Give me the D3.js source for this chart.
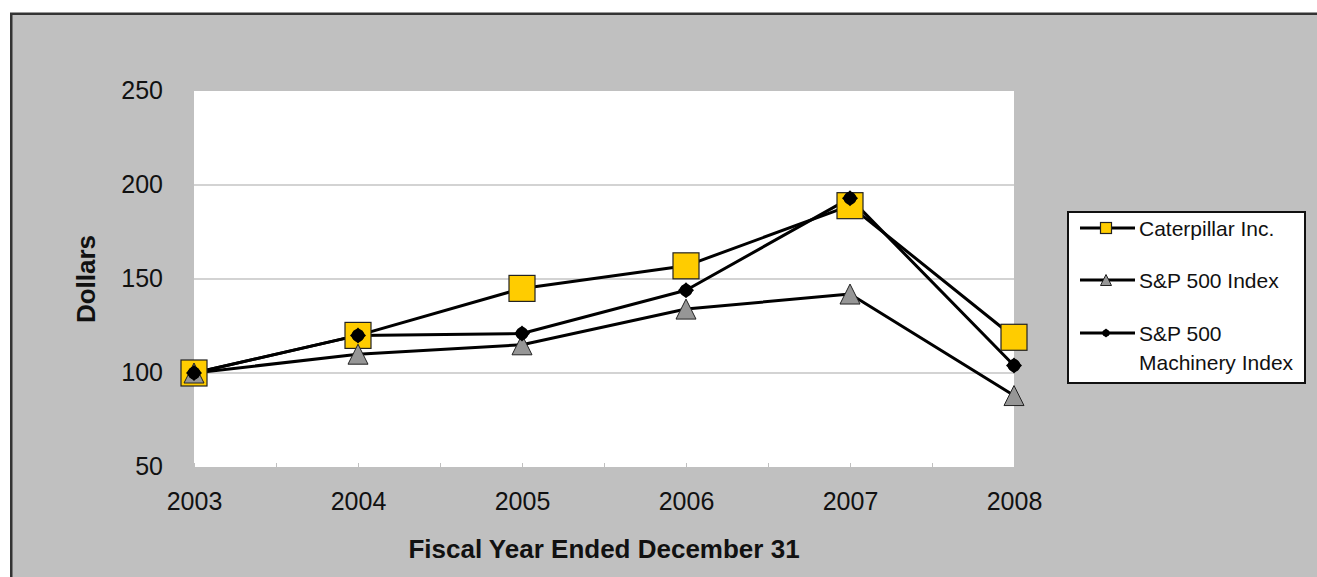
<!DOCTYPE html>
<html>
<head>
<meta charset="utf-8">
<script src="https://cdn.jsdelivr.net/npm/d3@7"></script>
<style>
body { margin: 0; background: #fff; overflow: hidden; }
svg { display: block; }
text { font-family: "Liberation Sans", Arial, sans-serif; }
</style>
</head>
<body>
<script>
var w = 1317;
var h = 577;

// data
var years = ["2003", "2004", "2005", "2006", "2007", "2008"];
var caterpillar = [100, 120, 145, 157, 189, 119];
var sp500 = [100, 110, 115, 134, 142, 88];
var machinery = [100, 120, 121, 144, 193, 104];
var yTicks = [50, 100, 150, 200, 250];
var seriesNames = ["Caterpillar Inc.", "S&P 500 Index", "S&P 500 Machinery Index"];

// plot area edges (window.top is read-only, so no "top" here)
var plotL = 194, plotR = 1014, plotT = 91, plotB = 467;

var svg = d3.select("body")
    .append("svg")
    .attr("width", w)
    .attr("height", h);

// chart area; the frame only shows on the top and left, it runs off the page elsewhere
svg.append("rect")
    .attr("x", 11)
    .attr("y", 14)
    .attr("width", w)
    .attr("height", h)
    .attr("fill", "#c0c0c0");
svg.append("path")
    .attr("d", "M11.25," + h + "V13.75H" + w)
    .attr("fill", "none")
    .attr("stroke", "#333")
    .attr("stroke-width", 2.5);

// plot area
svg.append("rect")
    .attr("x", plotL)
    .attr("y", plotT)
    .attr("width", plotR - plotL)
    .attr("height", plotB - plotT)
    .attr("fill", "#fff");

var xScale = d3.scalePoint()
    .domain(years)
    .range([plotL, plotR]);

var yScale = d3.scaleLinear()
    .domain([50, 250])
    .range([plotB, plotT]);

// gridlines
svg.selectAll("line.grid")
    .data([100, 150, 200])
    .enter()
    .append("line")
    .attr("class", "grid")
    .attr("x1", plotL)
    .attr("x2", plotR)
    .attr("y1", function(d) { return yScale(d); })
    .attr("y2", function(d) { return yScale(d); })
    .attr("stroke", "#c4c4c4")
    .attr("stroke-width", 1.5);

// small ticks along the bottom, at every half year
var tickScale = d3.scaleLinear().domain([0, years.length - 1]).range([plotL, plotR]);
var halfTicks = d3.range(1, (years.length - 1) * 2).map(function(i) { return i / 2; });
svg.append("g")
    .attr("transform", "translate(0," + plotB + ")")
    .call(d3.axisBottom(tickScale).tickValues(halfTicks).tickSize(-4).tickFormat(""))
    .call(function(g) {
        g.select(".domain").attr("stroke", "#c0c0c0");
        g.selectAll(".tick line").attr("stroke", "#c0c0c0");
    });

// y axis labels
svg.append("g")
    .attr("transform", "translate(" + plotL + ",0)")
    .call(d3.axisLeft(yScale).tickValues(yTicks).tickSize(0).tickPadding(31))
    .call(function(g) {
        g.select(".domain").remove();
        g.selectAll("text")
            .attr("font-family", "'Liberation Sans', Arial, sans-serif")
            .attr("font-size", "25px")
            .attr("fill", "#111")
            .attr("dy", "0.28em");
    });

// x axis labels
svg.append("g")
    .attr("transform", "translate(0," + plotB + ")")
    .call(d3.axisBottom(xScale).tickSize(0).tickPadding(25))
    .call(function(g) {
        g.select(".domain").remove();
        g.selectAll("text")
            .attr("font-family", "'Liberation Sans', Arial, sans-serif")
            .attr("font-size", "25px")
            .attr("fill", "#111");
    });

// axis titles
svg.append("text")
    .attr("x", (plotL + plotR) / 2)
    .attr("y", 558)
    .attr("text-anchor", "middle")
    .attr("font-size", "26px")
    .attr("font-weight", "bold")
    .attr("fill", "#111")
    .text("Fiscal Year Ended December 31");

svg.append("text")
    .attr("transform", "translate(95," + ((plotT + plotB) / 2) + ") rotate(-90)")
    .attr("text-anchor", "middle")
    .attr("font-size", "26px")
    .attr("font-weight", "bold")
    .attr("fill", "#111")
    .text("Dollars");

var line = d3.line()
    .x(function(d, i) { return xScale(years[i]); })
    .y(function(d) { return yScale(d); });

var allSeries = [caterpillar, sp500, machinery];

// all the lines first, then the markers on top
svg.selectAll("path.series")
    .data(allSeries)
    .enter()
    .append("path")
    .attr("class", "series")
    .attr("d", line)
    .attr("fill", "none")
    .attr("stroke", "#000")
    .attr("stroke-width", 3)
    .attr("stroke-linejoin", "round");

function drawMarker(g, kind, x, y, s) {
    if (kind === 0) {
        g.append("rect")
            .attr("x", x - s / 2)
            .attr("y", y - s / 2)
            .attr("width", s)
            .attr("height", s)
            .attr("fill", "#ffcc00")
            .attr("stroke", "#222")
            .attr("stroke-width", 1.2);
    } else if (kind === 1) {
        g.append("path")
            .attr("d", "M" + x + "," + (y - s / 2) + "L" + (x + s / 2) + "," + (y + s / 2) + "L" + (x - s / 2) + "," + (y + s / 2) + "Z")
            .attr("fill", "#969696")
            .attr("stroke", "#222")
            .attr("stroke-width", 1);
    } else {
        // small black diamond blob
        g.append("path")
            .attr("d", d3.symbol().type(d3.symbolSquare).size(s * s * 0.5)())
            .attr("transform", "translate(" + x + "," + y + ") rotate(45)")
            .attr("fill", "#000");
        g.append("circle")
            .attr("cx", x)
            .attr("cy", y)
            .attr("r", s * 0.4)
            .attr("fill", "#000");
    }
}

var markerSize = [26, 20, 16];
var markers = svg.append("g");
allSeries.forEach(function(values, k) {
    values.forEach(function(v, i) {
        drawMarker(markers, k, xScale(years[i]), yScale(v), markerSize[k]);
    });
});

// legend
var legend = svg.append("g");
legend.append("rect")
    .attr("x", 1068)
    .attr("y", 212)
    .attr("width", 237)
    .attr("height", 171)
    .attr("fill", "#fff")
    .attr("stroke", "#111")
    .attr("stroke-width", 2);

var legendY = [228, 280, 333];
var legendMarker = [11, 11, 9];
seriesNames.forEach(function(name, k) {
    var ly = legendY[k];
    legend.append("line")
        .attr("x1", 1080)
        .attr("x2", 1135)
        .attr("y1", ly)
        .attr("y2", ly)
        .attr("stroke", "#000")
        .attr("stroke-width", 3);
    drawMarker(legend, k, 1106, ly, legendMarker[k]);
    var words = k === 2 ? ["S&P 500", "Machinery Index"] : [name];
    words.forEach(function(t, j) {
        legend.append("text")
            .attr("x", 1139)
            .attr("y", ly + j * 29)
            .attr("dy", "0.36em")
            .attr("font-size", "21px")
            .attr("fill", "#111")
            .text(t);
    });
});
</script>
</body>
</html>
